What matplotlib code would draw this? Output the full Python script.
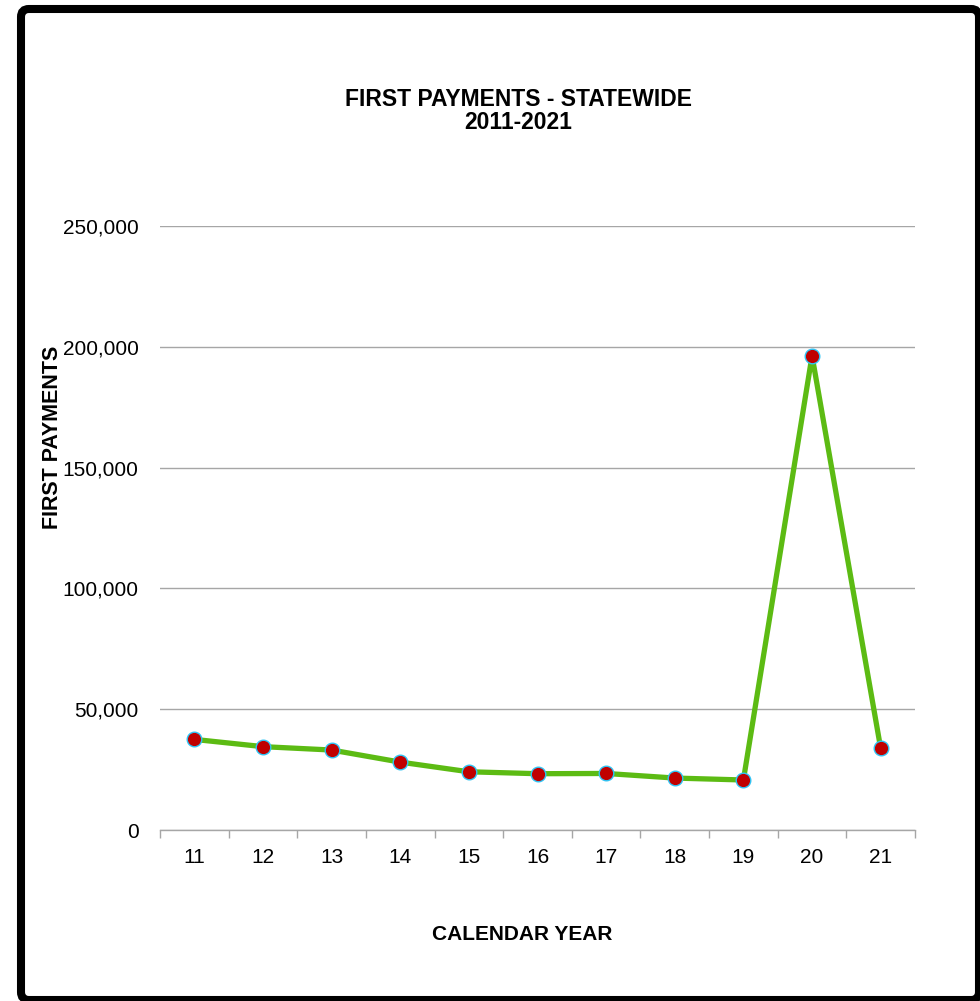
import matplotlib
matplotlib.use("Agg")
import matplotlib.pyplot as plt
from matplotlib.patches import FancyBboxPatch
from matplotlib.ticker import FuncFormatter, MultipleLocator

years = ["11", "12", "13", "14", "15", "16", "17", "18", "19", "20", "21"]
first_payments = [37500, 34500, 33100, 28100, 24100, 23300, 23400, 21500, 20700, 196300, 33800]

plt.rcParams["font.family"] = ["Liberation Sans", "DejaVu Sans"]

W, H = 980, 1001
fig = plt.figure(figsize=(W / 100, H / 100), dpi=100)
fig.patch.set_facecolor("white")

# rounded black frame around the chart
frame = FancyBboxPatch((21 / W, 1 - 1000 / H), (979 - 21) / W, (1000 - 9) / H,
                       boxstyle="round,pad=0,rounding_size=0.008",
                       transform=fig.transFigure, facecolor="none",
                       edgecolor="black", linewidth=5.8, zorder=0)
fig.patches.append(frame)

left, right = 160 / W, 915 / W
top, bottom = 1 - 226 / H, 1 - 830 / H
ax = fig.add_axes([left, bottom, right - left, top - bottom])

x = list(range(len(years)))
ax.plot(x, first_payments, color="#5CBB13", linewidth=3.8, zorder=3,
        marker="o", markersize=10.5, markerfacecolor="#C00000",
        markeredgecolor="#2FC4F5", markeredgewidth=1.0, solid_joinstyle="round")

ax.set_xlim(-0.5, len(years) - 0.5)
ax.set_ylim(0, 250000)
ax.yaxis.set_major_locator(MultipleLocator(50000))
ax.yaxis.set_major_formatter(FuncFormatter(lambda v, p: f"{int(v):,}"))
ax.grid(axis="y", color="#A6A6A6", linewidth=1.0)
ax.set_axisbelow(True)

ax.set_xticks(x)
ax.set_xticklabels(years)
ax.set_xticks([i - 0.5 for i in range(len(years) + 1)], minor=True)
ax.tick_params(axis="x", which="major", length=0, pad=13, labelsize=15)
ax.tick_params(axis="x", which="minor", length=6, width=1, color="#A6A6A6")
ax.tick_params(axis="y", length=0, pad=15.5, labelsize=15)

for s in ["top", "right", "left"]:
    ax.spines[s].set_visible(False)
ax.spines["bottom"].set_color("#A6A6A6")
ax.spines["bottom"].set_linewidth(1.0)

fig.text(518 / W, 1 - 111 / H, "FIRST PAYMENTS - STATEWIDE\n2011-2021",
         ha="center", va="center", fontsize=16.5, fontweight="bold",
         linespacing=1.0)
fig.text(522 / W, 1 - 934 / H, "CALENDAR YEAR", ha="center", va="center",
         fontsize=15, fontweight="bold")
fig.text(52.5 / W, 1 - 437 / H, "FIRST PAYMENTS", ha="center", va="center",
         rotation=90, fontsize=15.5, fontweight="bold")

fig.savefig("out.png", dpi=100, facecolor="white")
